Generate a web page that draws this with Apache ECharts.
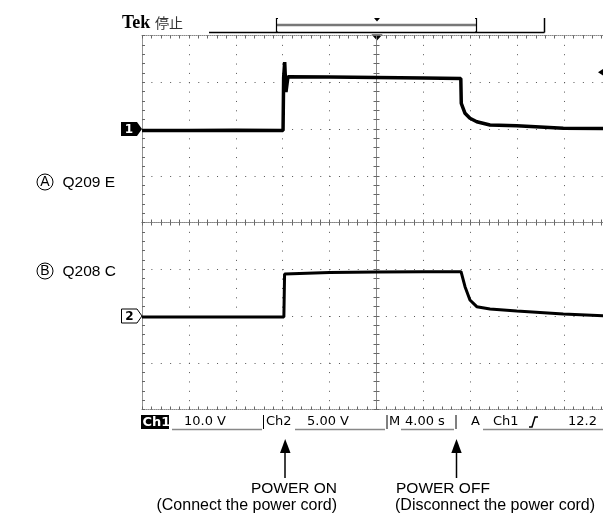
<!DOCTYPE html>
<html><head><meta charset="utf-8">
<script src="https://cdn.jsdelivr.net/npm/echarts@6/dist/echarts.min.js"></script>
<style>html,body{margin:0;padding:0;background:#fff}#c{width:603px;height:518px}</style>
</head><body><div id="c"></div>
<script>
// Time axis: 4.00 s/div, 10 divisions
const timeTicks = [0, 4, 8, 12, 16, 20, 24, 28, 32, 36, 40];
// Channel 1 (Q209 E), 10.0 V/div, ground marker 2 div below top
const timeCh1 = [0, 4, 8, 12.03, 12.08, 12.17, 12.28, 12.45, 16, 20, 24, 27.19, 27.23, 27.55, 27.97, 28.55, 29.68, 31.96, 35.93, 40];
const voltCh1 = [-0.3, -0.3, -0.25, -0.3, 11.0, 14.3, 7.9, 11.2, 11.1, 11.0, 10.9, 10.8, 5.5, 3.36, 2.29, 1.56, 0.86, 0.71, 0.15, 0.12];
// Channel 2 (Q208 C), 5.00 V/div, ground marker 6 div below top
const timeCh2 = [0, 4, 8, 12.1, 12.16, 12.3, 16, 20, 24, 27.21, 27.55, 27.97, 28.55, 29.68, 31.96, 35.93, 39.32, 40];
const voltCh2 = [-0.1, -0.1, -0.1, -0.1, 4.5, 4.6, 4.65, 4.7, 4.72, 4.74, 3.13, 1.71, 1.0, 0.75, 0.53, 0.21, 0.03, 0.0];
const ch1Range = [-60, 20, 10];
const ch2Range = [-10, 30, 5];

const chart = echarts.init(document.getElementById('c'), null, {renderer: 'canvas'});
const dotCol = '#555';
const pairs = (t, v) => t.map((x, i) => [x, v[i]]);

function tickAxisX(pos, offset, inside) {
  return {type: 'value', gridIndex: 0, position: pos, offset: offset, min: timeTicks[0], max: timeTicks[timeTicks.length - 1], interval: 4,
    axisLine: {show: true, onZero: false, lineStyle: {color: '#888', width: 1, type: [1, 1]}},
    axisTick: {show: true, inside: inside, length: 3, lineStyle: {color: '#666'}},
    minorTick: {show: true, splitNumber: 5, length: 3, lineStyle: {color: '#666'}},
    axisLabel: {show: false}, splitLine: {show: false}};
}
function tickAxisY(offset, inside) {
  return {type: 'value', gridIndex: 0, position: 'left', offset: offset, min: 0, max: 8, interval: 1,
    axisLine: {show: true, onZero: false, lineStyle: {color: '#888', width: 1, type: [1, 1]}},
    axisTick: {show: true, inside: inside, length: 3, lineStyle: {color: '#666'}},
    minorTick: {show: true, splitNumber: 5, length: 3, lineStyle: {color: '#666'}},
    axisLabel: {show: false}, splitLine: {show: false}};
}

const xMain = tickAxisX('bottom', 0, true);
xMain.splitLine = {show: true, lineStyle: {color: dotCol, width: 1, type: [1, 8.35]}};
const yMain = tickAxisY(0, true);
yMain.min = ch1Range[0]; yMain.max = ch1Range[1]; yMain.interval = ch1Range[2];
yMain.splitLine = {show: true, lineStyle: {color: dotCol, width: 1, type: [1, 8.38]}};

const txt = (x, y, s, font, extra) => ({type: 'text', x: x, y: y, silent: true,
  style: Object.assign({text: s, font: font, fill: '#000', textVerticalAlign: 'middle', verticalAlign: 'middle'}, extra || {})});
const line = (pts, col, w) => ({type: 'polyline', silent: true, shape: {points: pts}, style: {stroke: col || '#000', lineWidth: w || 1, fill: null}});
const poly = (pts, fill, stroke) => ({type: 'polygon', silent: true, shape: {points: pts}, style: {fill: fill, stroke: stroke || null, lineWidth: 1}});
const stat = '13px "DejaVu Sans"';
const sans = '15.5px "Liberation Sans", Arial, sans-serif';
const sans2 = '16px "Liberation Sans", Arial, sans-serif';

const graphics = [
  // header
  txt(122, 23, 'Tek', 'bold 18px "Liberation Serif", serif'),
  txt(155, 22.5, '停止', '14px "Noto Sans CJK JP"', {fill: '#333'}),
  line([[209, 32.5], [544.5, 32.5]], '#000', 1.5),
  line([[544.5, 18], [544.5, 32.5]], '#000', 1.5),
  line([[277, 25], [476, 25]], '#777', 2.5),
  line([[278, 18.5], [276.5, 18.5], [276.5, 32], [278, 32]], '#000', 1.2),
  line([[475, 18.5], [476.5, 18.5], [476.5, 32], [475, 32]], '#000', 1.2),
  poly([[374, 18], [380, 18], [377, 21.5]], '#000'),
  poly([[371.5, 34.5], [382.5, 34.5], [377, 40.5]], '#000'),
  // trigger level marker
  poly([[598, 72.3], [603, 69], [603, 75.6]], '#000'),
  // channel markers
  poly([[121, 122], [137, 122], [142, 129], [137, 136], [121, 136]], '#000'),
  txt(129, 129.5, '1', 'bold 12px "DejaVu Sans"', {fill: '#fff', textAlign: 'center', align: 'center'}),
  poly([[121.5, 309], [137, 309], [142, 316], [137, 323], [121.5, 323]], '#fff', '#000'),
  txt(129.5, 316.5, '2', 'bold 12px "DejaVu Sans"', {textAlign: 'center', align: 'center'}),
  // side labels
  {type: 'circle', silent: true, shape: {cx: 45, cy: 182, r: 8}, style: {fill: null, stroke: '#000', lineWidth: 1}},
  txt(45, 182.5, 'A', '14px "Liberation Sans", Arial', {textAlign: 'center', align: 'center'}),
  txt(62.5, 182.5, 'Q209 E', sans),
  {type: 'circle', silent: true, shape: {cx: 45, cy: 271, r: 8}, style: {fill: null, stroke: '#000', lineWidth: 1}},
  txt(45, 271.5, 'B', '14px "Liberation Sans", Arial', {textAlign: 'center', align: 'center'}),
  txt(62.5, 271.5, 'Q208 C', sans),
  // status bar
  {type: 'rect', silent: true, shape: {x: 141, y: 415, width: 28, height: 14}, style: {fill: '#000'}},
  txt(142.5, 422.5, 'Ch1', 'bold 13px "DejaVu Sans"', {fill: '#fff'}),
  line([[172, 429.5], [262, 429.5]], '#888', 1.5),
  txt(184, 422, '10.0 V', stat),
  line([[263.5, 415], [263.5, 429]], '#000', 1),
  txt(266, 422, 'Ch2', stat),
  line([[295, 429.5], [385, 429.5]], '#888', 1.5),
  txt(307, 422, '5.00 V', stat),
  line([[387, 415], [387, 429]], '#000', 1),
  txt(389, 422, 'M', stat),
  line([[401, 429.5], [454, 429.5]], '#888', 1.5),
  txt(405, 422, '4.00 s', stat),
  line([[456, 415], [456, 429]], '#000', 1),
  txt(471, 422, 'A', stat),
  line([[483, 429.5], [603, 429.5]], '#888', 1.5),
  txt(493, 422, 'Ch1', stat),
  line([[529, 427], [532, 427], [535, 417], [538, 417]], '#000', 1.5),
  txt(568, 422, '12.2', stat),
  // arrows
  line([[285, 449], [285, 478]], '#000', 1.5),
  poly([[280, 453], [290.5, 453], [285.2, 439]], '#000'),
  line([[456.5, 449], [456.5, 478]], '#000', 1.5),
  poly([[451.3, 453], [461.7, 453], [456.5, 439]], '#000'),
  txt(337, 489, 'POWER ON', sans, {textAlign: 'right', align: 'right'}),
  txt(337, 506, '(Connect the power cord)', sans2, {textAlign: 'right', align: 'right'}),
  txt(396, 489, 'POWER OFF', sans),
  txt(395, 506, '(Disconnect the power cord)', sans2)
];

chart.setOption({
  animation: false,
  backgroundColor: '#fff',
  grid: {left: 142, top: 35.5, width: 469, height: 374, containLabel: false, outerBoundsMode: 'none'},
  xAxis: [xMain, tickAxisX('bottom', -187, true), tickAxisX('bottom', -187, false), tickAxisX('top', 0, true)],
  yAxis: [yMain,
    {type: 'value', gridIndex: 0, position: 'right', min: ch2Range[0], max: ch2Range[1], interval: ch2Range[2], show: false, splitLine: {show: false}},
    tickAxisY(-234.5, true), tickAxisY(-234.5, false)],
  series: [
    {name: 'Q209 E', type: 'line', xAxisIndex: 0, yAxisIndex: 0, data: pairs(timeCh1, voltCh1), showSymbol: false, symbol: 'none',
      lineStyle: {color: '#000', width: 3.5}, z: 5},
    {name: 'Q208 C', type: 'line', xAxisIndex: 0, yAxisIndex: 1, data: pairs(timeCh2, voltCh2), showSymbol: false, symbol: 'none',
      lineStyle: {color: '#000', width: 3}, z: 5}
  ],
  graphic: graphics
});
</script></body></html>
